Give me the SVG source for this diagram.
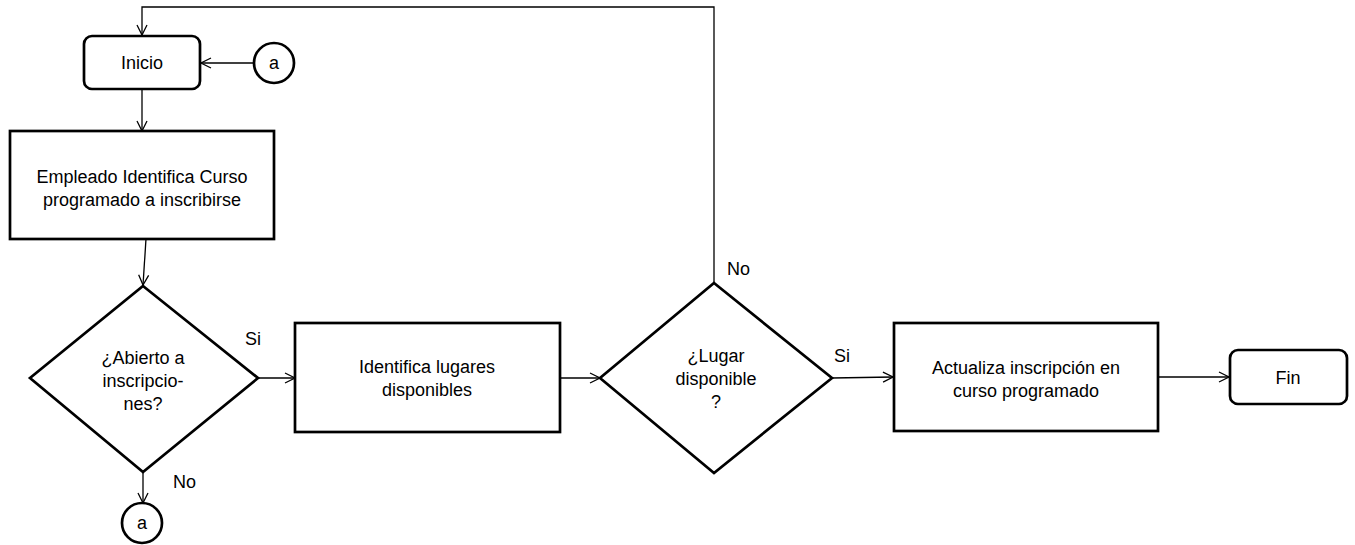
<svg xmlns="http://www.w3.org/2000/svg" width="1355" height="545" viewBox="0 0 1355 545">
<style>
.box{fill:#fff;stroke:#000;stroke-width:2.7}
.ln{fill:none;stroke:#000;stroke-width:1.3}
text{font-family:"Liberation Sans",Arial,sans-serif;font-size:18px;fill:#000;text-anchor:middle}
.lbl{text-anchor:start}
</style>
<defs>
<marker id="ar" viewBox="0 0 12 12" refX="11" refY="6" markerWidth="12" markerHeight="12" markerUnits="userSpaceOnUse" orient="auto">
<path d="M1,1 L11,6 L1,11" fill="none" stroke="#000" stroke-width="1.3"/>
</marker>
</defs>
<rect width="1355" height="545" fill="#fff"/>
<g id="connectors">
<path class="ln" d="M253,63 L201,63" marker-end="url(#ar)"/>
<path class="ln" d="M142,89 L142,131" marker-end="url(#ar)"/>
<path class="ln" d="M146,239 L143,285" marker-end="url(#ar)"/>
<path class="ln" d="M258,378 L295,378" marker-end="url(#ar)"/>
<path class="ln" d="M143,472 L143,503" marker-end="url(#ar)"/>
<path class="ln" d="M560,378 L600,378" marker-end="url(#ar)"/>
<path class="ln" d="M714,283 L714,7 L142,7 L142,35" marker-end="url(#ar)"/>
<path class="ln" d="M832,378 L893,377" marker-end="url(#ar)"/>
<path class="ln" d="M1158,377 L1229,377" marker-end="url(#ar)"/>
<text class="lbl" x="245" y="345">Si</text>
<text class="lbl" x="173" y="488">No</text>
<text class="lbl" x="727" y="275">No</text>
<text class="lbl" x="834" y="362">Si</text>
</g>
<g id="inicio">
<rect class="box" x="84" y="36" width="116" height="53" rx="8"/>
<text x="142" y="69">Inicio</text>
</g>
<g id="conector-a-top">
<circle class="box" cx="274" cy="63" r="20"/>
<text x="274" y="69">a</text>
</g>
<g id="empleado">
<rect class="box" x="10" y="131" width="264" height="108"/>
<text x="142" y="183">Empleado Identifica Curso</text>
<text x="142" y="206">programado a inscribirse</text>
</g>
<g id="abierto">
<polygon class="box" points="143,286 258,378 143,472 30,378"/>
<text x="143" y="364">¿Abierto a</text>
<text x="143" y="387">inscripcio-</text>
<text x="143" y="410">nes?</text>
</g>
<g id="conector-a-bottom">
<circle class="box" cx="142" cy="523" r="20"/>
<text x="142" y="529">a</text>
</g>
<g id="identifica">
<rect class="box" x="295" y="323" width="265" height="109"/>
<text x="427" y="373">Identifica lugares</text>
<text x="427" y="396">disponibles</text>
</g>
<g id="lugar">
<polygon class="box" points="714,283 832,378 714,473 600,378"/>
<text x="716" y="362">¿Lugar</text>
<text x="716" y="385">disponible</text>
<text x="716" y="408">?</text>
</g>
<g id="actualiza">
<rect class="box" x="894" y="323" width="264" height="108"/>
<text x="1026" y="374">Actualiza inscripción en</text>
<text x="1026" y="397">curso programado</text>
</g>
<g id="fin">
<rect class="box" x="1230" y="350" width="117" height="54" rx="8"/>
<text x="1288" y="384">Fin</text>
</g>
</svg>
